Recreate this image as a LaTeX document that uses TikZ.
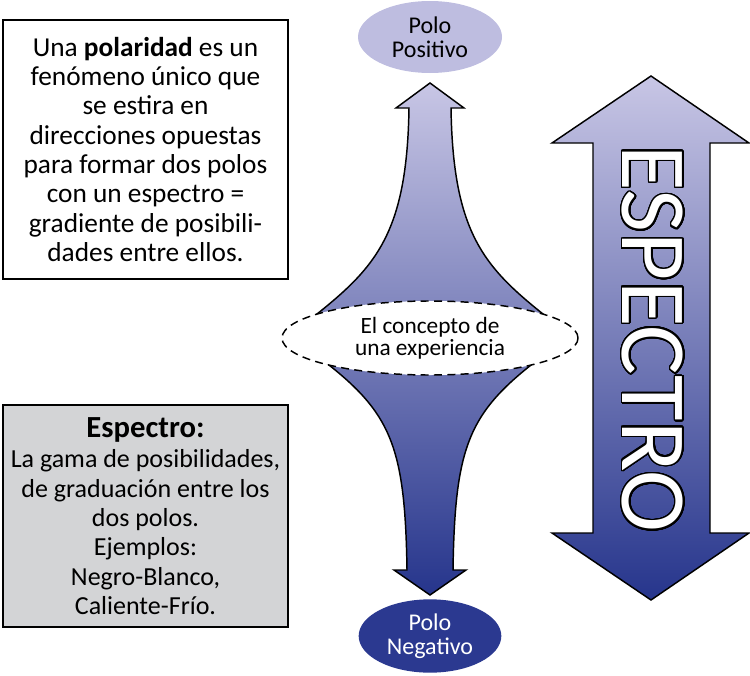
\documentclass[tikz,border=0pt]{standalone}
\usepackage{fontspec}
\setmainfont{Carlito}
\usepackage[copies]{contour}
\usetikzlibrary{positioning,shapes.geometric}
\definecolor{lavanda}{RGB}{200,198,229}
\definecolor{azul}{RGB}{38,53,140}
\definecolor{polopos}{RGB}{190,189,224}
\definecolor{poloneg}{RGB}{43,57,144}
\definecolor{gris}{RGB}{211,212,214}
\contourlength{1.2pt}
\contournumber{32}

\begin{document}
\begin{tikzpicture}[x=0.75pt,y=-0.75pt]
    \useasboundingbox (0,0) rectangle (750,675);
    %%%%% THE TEXT BOXES
    \begin{scope}[every node/.style={draw,line width=1.1pt,align=center,inner sep=0pt,
        minimum width=213.75pt,font=\fontsize{20.5}{22}\selectfont}]
      \node (polaridad) [minimum height=194.25pt] at (145.5,149.5) {Una \textbf{polaridad} es un\\
        fenómeno único que\\ se estira en\\ direcciones opuestas\\ para formar dos polos\\
        con un espectro =\\ gradiente de posibili-\\ dades entre ellos.};
      \node (definicion) [fill=gris,minimum height=166.5pt,font=\fontsize{19.5}{22}\selectfont]
        at (145.5,516) {{\fontsize{23}{22}\selectfont\textbf{Espectro:}}\\[1pt]
        La gama de posibilidades,\\ de graduación entre los\\ dos polos.\\ Ejemplos:\\
        Negro-Blanco,\\ Caliente-Frío.};
    \end{scope}
    %%%%% THE SPECTRUM ARROW
    \draw[line width=1.1pt,top color=lavanda,bottom color=azul]
      (651,76) -- (749,143) -- (710,143) -- (710,533) -- (749,533) -- (651,600)
      -- (552,533) -- (593,533) -- (593,143) -- (552,143) -- cycle;
    \node (espectro) [rotate=-90,text=white,inner sep=0pt,font=\fontsize{70}{70}\selectfont]
      at (652,339) {\contour{black}{ESPECTRO}};
    %%%%% THE TWO ARROWS AND THE CONCEPT
    \draw[line width=1.1pt,top color=lavanda,bottom color=azul]
      (409,108) -- (396,108) -- (430,83) -- (464,108) -- (451,108)
      .. controls (453,235) and (485,268) .. (548,318) -- (548,352)
      .. controls (470,410) and (455,440) .. (453,570)
      -- (466,570) -- (430,595) -- (394,570) -- (407,570)
      .. controls (405,440) and (390,410) .. (312,352) -- (312,318)
      .. controls (375,268) and (407,235) .. (409,108) -- cycle;
    \begin{scope}[every node/.style={ellipse,inner sep=0pt,align=center}]
      \node (concepto) [draw,fill=white,dashed,line width=1.1pt,dash pattern=on 6pt off 4pt,
        minimum width=222pt,minimum height=55.5pt,font=\fontsize{17.5}{16.5}\selectfont]
        at (430,338) {El concepto de\\ una experiencia};
      %%%%% THE POLES
      \node (positivo) [fill=polopos,minimum width=108pt,minimum height=54pt,
        font=\fontsize{18}{18}\selectfont] at (430,37) {Polo\\ Positivo};
      \node (negativo) [fill=poloneg,text=white,minimum width=107pt,minimum height=55pt,
        font=\fontsize{18}{18}\selectfont] at (430,636) {Polo\\ Negativo};
    \end{scope}
\end{tikzpicture}
\end{document}
